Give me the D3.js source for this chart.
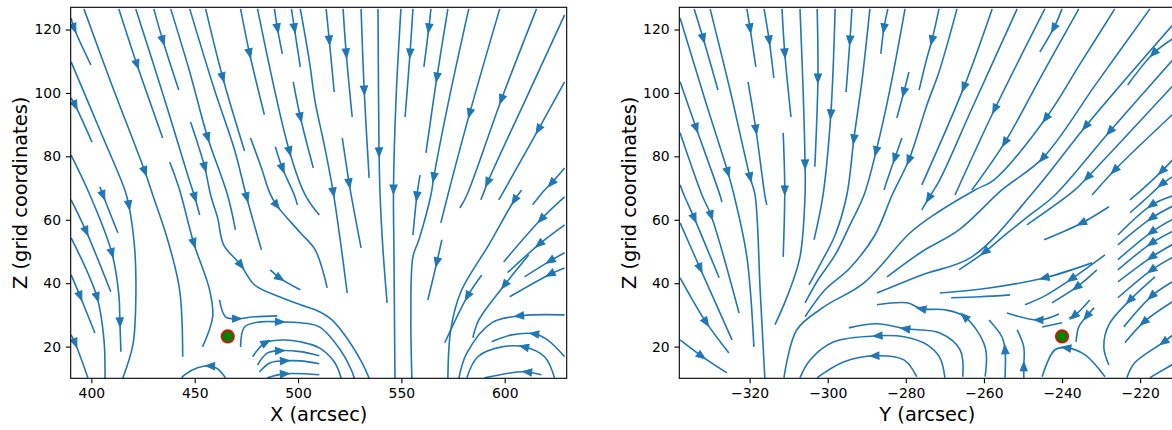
<!DOCTYPE html>
<html>
<head>
<meta charset="utf-8">
<script src="https://cdn.jsdelivr.net/npm/d3@7"></script>
<style>
  body { margin: 0; background: #fff; }
  svg { display: block; font-family: "DejaVu Sans", sans-serif; }
</style>
</head>
<body>
<div id="chart"></div>
<script>
// axis ranges and ticks
const xDomainLeft = [390, 630];
const yDomainRight = [-338, -211];
const zDomain = [10, 127];
const xTicksLeft = [400, 450, 500, 550, 600];
const yTicksRight = [-320, -300, -280, -260, -240, -220];
const zTicks = [20, 40, 60, 80, 100, 120];

// null point marker (arcsec, grid)
const leftNull = [466, 23.2];
const rightNull = [-240, 23.2];

// streamlines, in flow order: p = [x, z] points, a = arrow at point index
const leftLines = [
  {p: [[390.2,123.6],[391.6,120.5],[399.8,108.8]], a: [1]},
  {p: [[396.4,126.5],[409.0,104.1],[425.8,75.4],[429.7,67.8],[436.9,53.7],[442.7,37.9],[444.2,16.8]], a: [2]},
  {p: [[390.2,109.8],[404.1,88.3],[416.2,69.4],[418.1,64.7],[421.0,50.5],[421.5,34.7],[420.1,20.6],[415.2,10]], a: [3]},
  {p: [[390.2,98.4],[392.1,96.2],[400.3,84.5]], a: [1]},
  {p: [[390.2,80.4],[399.3,67.8],[409.9,49.6],[413.3,36.3],[413.8,27.8],[414.3,18.4]], a: [2, 4]},
  {p: [[404.1,70.4],[405.6,67.8],[412.8,55.9]], a: [1]},
  {p: [[413.3,126.5],[422.0,109.1],[434.5,85.8]], a: [1]},
  {p: [[421.5,126.5],[435.5,97.8],[446.6,74.1],[450.0,67.2],[452.4,61.5]], a: [3]},
  {p: [[430.2,126.5],[434.5,116.7],[442.3,100.9]], a: [1]},
  {p: [[438.4,126.5],[447.6,106.6],[456.2,86.1],[465.9,67.8],[469.7,56.8]], a: [2]},
  {p: [[437.9,78.2],[442.7,69.4],[449.5,52.7],[457.2,37.9],[458.7,29.4],[453.8,19.9]], a: [2]},
  {p: [[477.0,85.8],[482.3,76.3],[486.1,68.8],[489.5,64.7],[501.1,55.9],[508.3,50.5],[514.1,38.5]], a: [3]},
  {p: [[489.0,83.0],[492.4,76.3],[498.2,67.8],[499.7,64.7]], a: [1]},
  {p: [[497.7,103.5],[501.1,92.4],[507.4,76.3]], a: [1]},
  {p: [[480.4,126.5],[495.8,81.7],[503.5,67.8],[510.3,61.5]], a: [1]},
  {p: [[472.2,126.5],[476.5,112.6],[483.7,93.1]], a: [1]},
  {p: [[488.6,126.5],[490.0,120.5],[492.4,112.3]], a: [1]},
  {p: [[496.8,126.5],[498.2,120.5],[501.1,108.2]], a: [1]},
  {p: [[501.1,126.5],[505.4,110.4],[508.3,97.1],[512.7,83.6],[517.0,68.8],[520.4,53.7],[523.8,36.9]], a: [4]},
  {p: [[455.3,126.5],[463.5,105.0],[474.1,81.7]], a: [1]},
  {p: [[447.6,126.5],[459.6,100.9],[469.3,82.0],[475.1,67.2],[482.3,50.5]], a: [3]},
  {p: [[448.0,90.8],[454.8,76.7],[457.7,67.8],[461.1,60.6],[464.0,52.1],[472.2,45.8],[478.9,39.5],[491.0,35.7],[501.1,33.2],[508.3,31.6],[515.1,29.1],[521.4,24.7],[531.0,14.9],[534.4,10]], a: [1, 5]},
  {p: [[486.6,44.2],[491.0,41.7],[501.1,37.9]], a: [1]},
  {p: [[462.0,34.7],[464.9,29.4],[470.2,28.8],[478.9,29.4],[490.0,29.7]], a: [2]},
  {p: [[472.2,19.9],[474.1,26.2],[481.8,27.8],[491.0,27.8],[501.1,27.5],[510.3,26.2],[520.4,19.0],[526.2,12.0],[527.2,10]], a: [3]},
  {p: [[478.0,16.8],[484.2,21.2],[493.4,22.1],[501.1,21.5],[510.3,19.6],[517.5,15.2],[520.9,10]], a: [1]},
  {p: [[480.4,14.2],[485.2,18.0],[491.0,18.7],[501.1,18.4],[510.3,17.1]], a: [2]},
  {p: [[481.3,12.0],[486.6,14.9],[493.4,15.5],[501.1,15.5],[510.3,14.6]], a: [2]},
  {p: [[485.2,10.2],[493.4,11.4],[510.3,11.1]], a: [1]},
  {p: [[464.9,10.2],[461.1,13.0],[457.7,13.9],[451.4,13.3],[445.1,11.1],[443.7,10.2]], a: [2]},
  {p: [[513.6,126.5],[515.1,116.7],[517.5,100.3]], a: [1]},
  {p: [[521.8,126.5],[523.3,112.6],[526.2,92.4]], a: [1]},
  {p: [[530.5,126.5],[532.0,100.9],[534.4,73.2]], a: [1]},
  {p: [[521.4,85.8],[524.7,71.6],[525.7,67.8],[530.5,51.1]], a: [1]},
  {p: [[538.7,126.5],[539.2,81.4],[539.7,67.8],[541.1,50.5],[543.1,33.8]], a: [1]},
  {p: [[549.8,126.5],[547.4,97.8],[546.2,69.7],[546.4,50.5],[546.9,10]], a: [2]},
  {p: [[559.0,74.1],[557.5,67.5],[555.6,55.2]], a: [1]},
  {p: [[555.6,126.5],[554.2,112.6],[551.8,92.4]], a: [1]},
  {p: [[564.3,126.5],[563.3,120.5],[560.9,108.2]], a: [1]},
  {p: [[572.5,126.5],[567.2,105.0],[561.9,81.1]], a: [1]},
  {p: [[582.6,126.5],[573.0,97.8],[565.7,73.5],[564.3,67.8],[558.5,53.7],[555.6,48.3],[554.6,29.4],[555.1,10]], a: [2]},
  {p: [[597.6,126.5],[583.1,93.7],[572.5,67.8],[569.1,59.0]], a: [1]},
  {p: [[615.4,126.5],[598.5,98.1],[581.7,67.8],[578.3,63.7]], a: [1]},
  {p: [[629.0,124.6],[610.4,98.3],[591.8,71.9],[589.4,67.8],[588.4,66.3]], a: [2]},
  {p: [[629.0,103.5],[616.4,88.6],[598.5,67.8],[597.1,66.3]], a: [1]},
  {p: [[629.0,76.3],[622.7,71.6],[619.3,69.4],[613.5,64.7]], a: [1]},
  {p: [[629.0,67.2],[617.8,60.3],[599.5,46.7]], a: [1]},
  {p: [[629.0,58.4],[616.9,52.4],[601.4,43.3]], a: [1]},
  {p: [[629.0,49.6],[622.2,47.1],[609.6,42.0]], a: [1]},
  {p: [[629.0,44.8],[622.2,42.9],[602.4,35.7]], a: [1]},
  {p: [[608.2,69.4],[604.8,66.3],[592.3,52.1],[578.8,37.3],[573.9,25.3],[572.5,10]], a: [1]},
  {p: [[611.6,48.9],[600.0,39.5],[587.5,28.4],[584.6,22.8]], a: [1]},
  {p: [[588.9,42.6],[582.1,36.0],[571.0,21.2]], a: [1]},
  {p: [[569.6,53.7],[567.2,46.7],[562.8,34.7]], a: [1]},
  {p: [[629.0,30.0],[607.2,29.7],[593.7,27.5],[581.7,18.0],[577.8,10]], a: [1]},
  {p: [[629.0,16.8],[620.7,22.1],[614.5,24.0],[603.4,23.7],[593.7,21.5]], a: [2]},
  {p: [[624.1,10.2],[619.3,16.8],[609.6,19.9],[598.5,19.9],[587.0,16.8],[581.7,10.2]], a: [2]},
  {p: [[617.8,11.1],[611.1,12.0],[606.3,12.0],[590.3,10.2]], a: [1]},
  {p: [[390.2,66.3],[397.4,56.5],[409.4,37.3]], a: [1]},
  {p: [[390.2,54.3],[402.7,35.7],[406.1,22.1],[406.6,10]], a: [1]},
  {p: [[390.2,42.6],[394.5,36.0],[401.7,24.3]], a: [1]},
  {p: [[390.2,23.7],[392.1,21.2],[398.3,10.2]], a: [1]}
];

const rightLines = [
  {p: [[-337.8,123.6],[-331.4,97.8],[-325.6,75.1],[-324.0,67.8],[-320.7,48.3],[-318.9,19.9]], a: [2]},
  {p: [[-334.2,126.5],[-331.9,117.3],[-328.1,100.9]], a: [1]},
  {p: [[-330.1,126.5],[-325.0,100.9],[-319.9,73.5],[-318.6,67.8],[-317.3,37.9],[-316.1,10]], a: [2]},
  {p: [[-337.8,103.5],[-333.7,89.0],[-327.6,67.8],[-327.1,65.6]], a: [1]},
  {p: [[-337.8,87.4],[-332.2,67.8],[-329.9,61.5],[-322.7,30.6]], a: [2]},
  {p: [[-337.8,71.0],[-336.8,67.8],[-334.2,60.6],[-327.8,41.7]], a: [2]},
  {p: [[-337.8,59.0],[-332.7,44.8],[-324.5,22.1]], a: [1]},
  {p: [[-337.8,41.7],[-331.2,27.8],[-325.3,18.0]], a: [1]},
  {p: [[-337.8,22.1],[-332.4,17.1],[-325.8,11.7]], a: [1]},
  {p: [[-320.7,126.5],[-319.9,120.5],[-318.4,108.2]], a: [1]},
  {p: [[-316.3,126.5],[-315.0,116.7],[-313.8,104.7]], a: [1]},
  {p: [[-311.7,126.5],[-311.0,112.6],[-309.4,92.4]], a: [1]},
  {p: [[-307.1,126.5],[-306.3,100.9],[-305.8,77.6],[-305.8,67.8],[-307.1,48.3],[-310.2,36.3],[-313.5,26.9]], a: [2]},
  {p: [[-311.4,87.4],[-311.0,69.4],[-311.4,48.3]], a: [1]},
  {p: [[-320.4,103.5],[-318.4,88.6],[-316.1,67.8],[-315.6,64.7]], a: [1]},
  {p: [[-302.7,126.5],[-302.5,104.7],[-303.3,76.7]], a: [1]},
  {p: [[-298.1,126.5],[-299.2,93.4],[-301.2,67.8],[-303.5,53.7]], a: [1]},
  {p: [[-293.8,126.5],[-294.3,116.7],[-295.3,100.3]], a: [1]},
  {p: [[-289.2,126.5],[-291.2,104.1],[-293.3,85.5],[-295.1,67.8],[-298.1,55.2],[-302.0,45.8],[-304.8,39.5]], a: [2]},
  {p: [[-284.6,126.5],[-285.6,120.5],[-286.4,112.3]], a: [1]},
  {p: [[-280.2,126.5],[-284.1,100.9],[-287.6,81.7],[-290.7,67.8],[-294.3,58.4],[-298.1,48.9],[-302.5,41.0],[-305.8,33.8]], a: [2]},
  {p: [[-279.2,106.6],[-280.5,100.3],[-282.3,92.1]], a: [1]},
  {p: [[-281.0,85.8],[-282.8,79.5],[-285.1,71.3],[-285.6,69.4]], a: [1]},
  {p: [[-266.9,126.5],[-271.5,106.6],[-274.6,96.2],[-279.2,78.9],[-283.5,67.8],[-287.9,55.2],[-294.3,44.8],[-300.7,37.9],[-305.8,29.4]], a: [3]},
  {p: [[-271.5,126.5],[-273.3,116.7],[-274.6,111.0],[-276.6,100.9]], a: [1]},
  {p: [[-257.9,126.5],[-265.1,101.9],[-275.9,71.0]], a: [1]},
  {p: [[-251.5,126.5],[-263.1,95.0],[-271.3,72.6],[-274.1,66.9],[-275.9,63.1]], a: [3]},
  {p: [[-244.4,126.5],[-257.2,95.0],[-267.4,67.8]], a: [1]},
  {p: [[-235.7,126.5],[-245.1,105.8],[-254.6,84.5],[-263.1,69.4]], a: [2]},
  {p: [[-226.5,126.5],[-235.3,109.3],[-244.1,92.1],[-257.4,72.6],[-262.3,69.4],[-272.0,62.2],[-278.9,55.9],[-290.7,40.1],[-301.0,32.5],[-307.9,25.3],[-311.2,10.2]], a: [2]},
  {p: [[-217.5,126.5],[-231.2,103.0],[-244.9,79.5],[-255.4,69.4],[-266.4,56.8],[-275.9,49.9],[-284.8,42.0]], a: [2]},
  {p: [[-211,122.4],[-233.9,89.6],[-246.9,69.4],[-263.1,48.3],[-275.9,42.6],[-287.4,36.9]], a: [1]},
  {p: [[-211,111.3],[-227.7,88.0],[-241.8,67.8],[-248.2,61.5],[-254.6,55.2],[-259.7,49.9],[-266.4,44.2]], a: [1, 5]},
  {p: [[-211,103.1],[-233.4,73.5],[-236.7,69.4],[-249.0,58.4]], a: [1]},
  {p: [[-211,94.0],[-226.5,75.7],[-232.3,67.8]], a: [1]},
  {p: [[-228.0,64.1],[-234.9,59.0],[-244.6,53.7]], a: [1]},
  {p: [[-211,79.8],[-214.4,75.4],[-219.6,69.4],[-222.6,66.3]], a: [1]},
  {p: [[-211,74.1],[-214.4,71.3],[-217.5,67.8],[-222.6,62.2]], a: [1]},
  {p: [[-211,117.6],[-216.5,112.6],[-223.2,102.5]], a: [1]},
  {p: [[-240.0,126.5],[-242.1,120.5],[-245.7,112.9]], a: [1]},
  {p: [[-232.3,46.4],[-244.4,41.7],[-258.7,38.5],[-271.3,36.9]], a: [1]},
  {p: [[-229.0,48.9],[-237.5,41.4],[-244.4,36.0],[-249.5,33.2]], a: [1]},
  {p: [[-231.1,44.2],[-236.2,38.8],[-242.6,33.8]], a: [1]},
  {p: [[-253.3,36.3],[-261.0,35.7],[-268.4,35.4]], a: []},
  {p: [[-240.8,30.3],[-245.9,28.4],[-254.1,30.6]], a: [1]},
  {p: [[-240.0,27.5],[-245.1,26.2]], a: []},
  {p: [[-232.9,34.7],[-236.9,29.7],[-238.2,29.1]], a: [1]},
  {p: [[-231.8,32.2],[-233.6,29.7],[-235.7,26.2],[-236.4,21.5]], a: [1]},
  {p: [[-229.0,10.5],[-234.1,17.4],[-238.8,19.6],[-241.8,19.0],[-245.1,10.5]], a: [2]},
  {p: [[-254.6,10.2],[-254.6,19.0],[-255.4,23.1],[-258.7,28.4]], a: [1]},
  {p: [[-249.8,10.2],[-249.8,13.6],[-249.8,19.9],[-251.5,25.3]], a: [1]},
  {p: [[-259.7,10.5],[-259.7,19.9],[-264.9,29.4],[-270.0,31.6],[-275.9,31.9],[-279.7,33.8],[-287.4,33.2]], a: [2, 4]},
  {p: [[-265.4,10.5],[-266.1,19.0],[-271.3,24.3],[-280.0,25.6],[-287.4,27.2],[-294.6,25.9]], a: [3]},
  {p: [[-270.0,10.2],[-271.3,16.5],[-274.6,20.6],[-280.5,23.1],[-287.1,23.4],[-298.4,21.5],[-304.5,15.8],[-307.1,10.2]], a: [4]},
  {p: [[-277.2,10.5],[-280.5,15.8],[-287.9,17.1],[-295.8,15.2],[-302.7,10.2]], a: [2]},
  {p: [[-216.2,42.0],[-222.6,34.7],[-228.0,26.9],[-229.3,19.9],[-228.0,14.2]], a: [1]},
  {p: [[-211,41.0],[-217.0,36.0],[-224.2,26.2]], a: [1]},
  {p: [[-211,34.7],[-219.0,27.8],[-223.9,21.2]], a: [1]},
  {p: [[-211,24.3],[-213.9,21.5],[-221.4,14.9],[-223.4,10.2]], a: [1]},
  {p: [[-211,14.9],[-217.5,10.2]], a: []},
  {p: [[-211,67.8],[-217.0,64.7],[-225.7,55.2]], a: [1]},
  {p: [[-211,64.7],[-217.0,60.6],[-225.7,52.1]], a: [1]},
  {p: [[-211,60.6],[-217.0,56.2],[-225.7,47.4]], a: [1]},
  {p: [[-211,56.8],[-217.0,52.7],[-225.7,44.2]], a: [1]},
  {p: [[-211,52.7],[-217.0,48.3],[-225.7,40.4]], a: [1]},
  {p: [[-211,48.6],[-217.0,44.2],[-225.7,35.4]], a: [1]}
];

const width = 1172;
const height = 430;
const plotTop = 7.3;
const plotBottom = 378.3;
const streamColor = "#1f77b4";

const svg = d3.select("#chart")
    .append("svg")
    .attr("width", width)
    .attr("height", height);

const z = d3.scaleLinear().domain(zDomain).range([plotBottom, plotTop]);

function drawPanel(opts) {
    const x = d3.scaleLinear().domain(opts.domain).range([opts.left, opts.right]);
    const g = svg.append("g");

    g.append("clipPath")
        .attr("id", opts.id)
        .append("rect")
        .attr("x", opts.left)
        .attr("y", plotTop)
        .attr("width", opts.right - opts.left)
        .attr("height", plotBottom - plotTop);

    const plot = g.append("g").attr("clip-path", `url(#${opts.id})`);

    const line = d3.line()
        .x((d) => x(d[0]))
        .y((d) => z(d[1]))
        .curve(d3.curveCatmullRom.alpha(0.5));

    // streamlines
    plot.selectAll("path.stream")
        .data(opts.lines)
        .enter()
        .append("path")
        .attr("class", "stream")
        .attr("d", (d) => line(d.p))
        .attr("fill", "none")
        .attr("stroke", streamColor)
        .attr("stroke-width", 1.6);

    // arrow heads, pointing along the local direction of the line
    const heads = [];
    opts.lines.forEach((d) => {
        d.a.forEach((k) => {
            const a = d.p[Math.max(k - 1, 0)];
            const b = d.p[Math.min(k + 1, d.p.length - 1)];
            const ang = Math.atan2(z(b[1]) - z(a[1]), x(b[0]) - x(a[0])) * 180 / Math.PI;
            heads.push({ px: x(d.p[k][0]), py: z(d.p[k][1]), ang: ang });
        });
    });
    plot.selectAll("path.head")
        .data(heads)
        .enter()
        .append("path")
        .attr("class", "head")
        .attr("d", "M5,0L-4,3.6L-4,-3.6Z")
        .attr("transform", (d) => `translate(${d.px},${d.py}) rotate(${d.ang})`)
        .attr("fill", streamColor)
        .attr("stroke", streamColor)
        .attr("stroke-width", 1);

    // null point
    plot.append("circle")
        .attr("cx", x(opts.nullPt[0]))
        .attr("cy", z(opts.nullPt[1]))
        .attr("r", 6.3)
        .attr("fill", "green")
        .attr("stroke", "red")
        .attr("stroke-width", 1.6);

    // axes
    const xAxis = g.append("g")
        .attr("transform", `translate(0,${plotBottom})`)
        .call(d3.axisBottom(x).tickValues(opts.ticks).tickSize(4.9).tickPadding(5.3).tickSizeOuter(0));
    const zAxis = g.append("g")
        .attr("transform", `translate(${opts.left},0)`)
        .call(d3.axisLeft(z).tickValues(zTicks).tickSize(4.9).tickPadding(4.8).tickSizeOuter(0));
    [xAxis, zAxis].forEach((ax) => {
        ax.select(".domain").remove();
        ax.selectAll("line").attr("stroke", "#000").attr("stroke-width", 1.1);
        ax.selectAll("text")
            .attr("fill", "#000")
            .style("font-family", "DejaVu Sans, sans-serif")
            .style("font-size", "13.9px");
    });

    // frame
    g.append("rect")
        .attr("x", opts.left)
        .attr("y", plotTop)
        .attr("width", opts.right - opts.left)
        .attr("height", plotBottom - plotTop)
        .attr("fill", "none")
        .attr("stroke", "#000")
        .attr("stroke-width", 1.1);

    // labels
    g.append("text")
        .attr("x", (opts.left + opts.right) / 2)
        .attr("y", 421)
        .attr("text-anchor", "middle")
        .style("font-size", "19.4px")
        .text(opts.xLabel);
    g.append("text")
        .attr("transform", `translate(${opts.zLabelX},${(plotTop + plotBottom) / 2}) rotate(-90)`)
        .attr("text-anchor", "middle")
        .style("font-size", "19.4px")
        .text("Z (grid coordinates)");
}

drawPanel({
    id: "clipLeft", left: 70.7, right: 566.7, domain: xDomainLeft, ticks: xTicksLeft,
    lines: leftLines, nullPt: leftNull, xLabel: "X (arcsec)", zLabelX: 27
});
drawPanel({
    id: "clipRight", left: 679.3, right: 1175.3, domain: yDomainRight, ticks: yTicksRight,
    lines: rightLines, nullPt: rightNull, xLabel: "Y (arcsec)", zLabelX: 635.6
});
</script>
</body>
</html>
